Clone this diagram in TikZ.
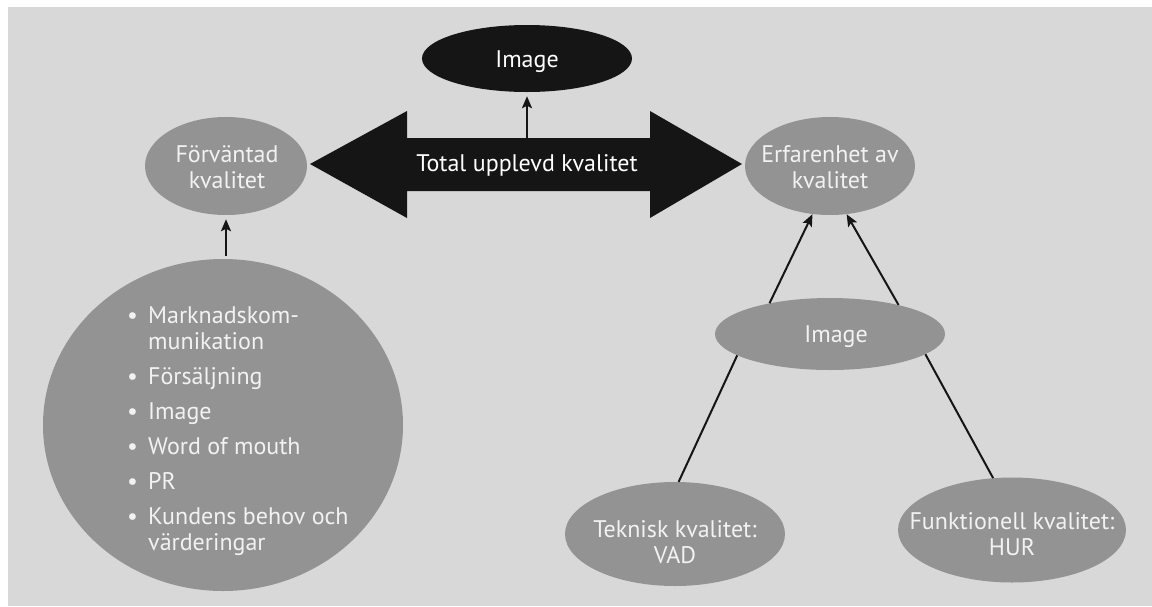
\documentclass[tikz,border=0pt]{standalone}
\usepackage{fontspec}
\setmainfont{PT Sans}
\usetikzlibrary{shapes.geometric,arrows.meta}
\definecolor{bg}{HTML}{D8D8D8}
\definecolor{ellgray}{HTML}{939393}
\definecolor{txtw}{HTML}{F2F2F2}
\definecolor{ink}{HTML}{151515}
\newcommand\bul{\makebox[21pt][l]{\textbullet}}
\newcommand\cont{\hspace*{21pt}}
\begin{document}
\begin{tikzpicture}[x=1pt,y=-1pt,
  ell/.style={ellipse, fill=ellgray, inner sep=0pt},
  txt/.style={inner sep=0pt, text=txtw, align=center, font=\fontsize{24}{26}\selectfont},
  conn/.style={line width=2pt, draw=ink},
  arr/.style={conn, -{Stealth[length=12pt,width=10pt,inset=2.5pt]}}]
\useasboundingbox (0,0) rectangle (1152,606);
\fill[white] (0,0) rectangle (1152,606);
\fill[bg] (8,7) rectangle (1152,606);

% top image
\node[ellipse, fill=ink, inner sep=0pt, minimum width=210pt, minimum height=67pt] (img1) at (527,58.5) {};
\node[txt, text=white] (img1t) at (527,62) {Image};

% big double arrow
\fill[ink] (310,164) -- (407,111) -- (407,138) -- (650,138) -- (650,111) -- (742,164)
  -- (650,218) -- (650,191) -- (407,191) -- (407,218) -- cycle;
\node[txt, text=white, minimum width=240pt, minimum height=54pt] (total) at (527,165) {Total upplevd kvalitet};

% left side
\node[ell, minimum width=162pt, minimum height=98pt] (forv) at (226,166) {};
\node[txt] (forvt) at (227,167) {Förväntad\\kvalitet};
\node[ell, minimum width=360pt, minimum height=332pt] (circ) at (223,425) {};
\node[inner sep=0pt, anchor=base west, text=txtw, font=\fontsize{24}{26}\selectfont] (list) at (127,323)
 {\begin{tabular}[t]{@{}l@{}}
  \bul Marknadskom-\\
  \cont munikation\\[9pt]
  \bul Försäljning\\[9pt]
  \bul Image\\[9pt]
  \bul Word of mouth\\[9pt]
  \bul PR\\[9pt]
  \bul Kundens behov och\\
  \cont värderingar
  \end{tabular}};

% right side
\node[ell, minimum width=170pt, minimum height=98pt] (erf) at (830,166) {};
\node[txt] (erft) at (830,167) {Erfarenhet av\\kvalitet};
\node[ell, minimum width=230pt, minimum height=72pt] (img2) at (830,334) {};
\node[txt] (img2t) at (836,337) {Image};
\node[ell, minimum width=220pt, minimum height=104pt] (tek) at (675,534) {};
\node[txt] (tekt) at (675,542) {Teknisk kvalitet:\\VAD};
\node[ell, minimum width=228pt, minimum height=105pt] (fun) at (1012,530) {};
\node[txt] (funt) at (1012,534) {Funktionell kvalitet:\\HUR};

% connectors
\draw[arr, shorten >=4pt] (total.north) -- (img1.south);
\draw[arr, shorten >=4pt, shorten <=3pt] (forv.south |- circ.north) -- (forv.south);
\draw[arr] (img2.153.9) -- (erf.250.5);
\draw[arr] (img2.23.6) -- (erf.289.5);
\draw[conn] (tek.86.7) -- (img2.193.2);
\draw[conn] (fun.110.3) -- (img2.348.7);
\end{tikzpicture}
\end{document}
